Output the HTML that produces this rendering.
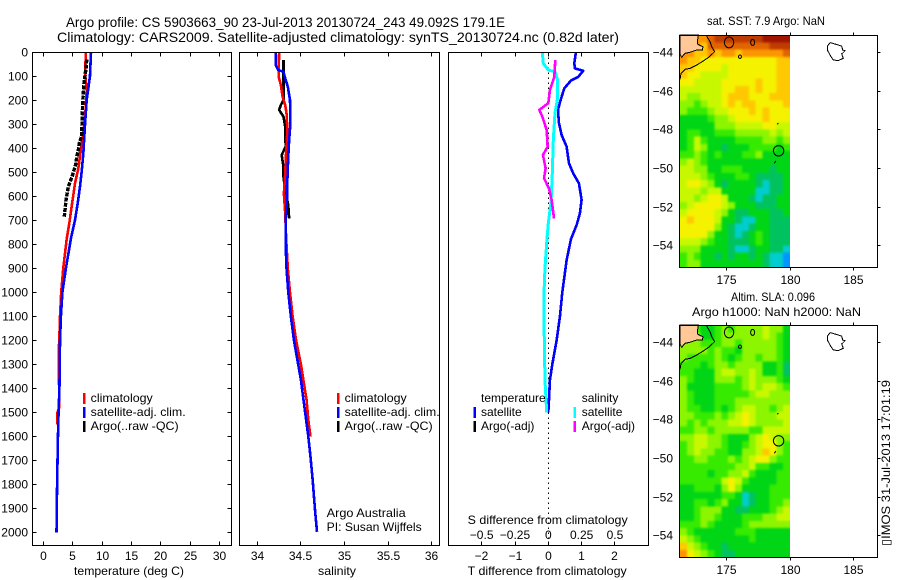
<!DOCTYPE html>
<html>
<head>
<meta charset="utf-8">
<title>Argo profile chart</title>
<style>
html,body{margin:0;padding:0;background:#fff;}
svg{display:block;}
text{font-family:"Liberation Sans",sans-serif;font-size:12px;fill:#000;}
.title{font-size:14px;}
</style>
</head>
<body>
<svg id="chart" xmlns="http://www.w3.org/2000/svg" width="900" height="580" viewBox="0 0 900 580">
<defs>
<filter id="heatSmooth" color-interpolation-filters="sRGB"><feGaussianBlur stdDeviation="1"/></filter>
<clipPath id="clipSst"><rect x="680" y="35" width="110" height="232"/></clipPath>
<clipPath id="clipSla"><rect x="680" y="325" width="110" height="232"/></clipPath>
</defs>
<rect x="0" y="0" width="900" height="580" fill="#fff"/>
<text class="title" x="66" y="27" textLength="439" lengthAdjust="spacingAndGlyphs">Argo profile: CS 5903663_90 23-Jul-2013 20130724_243 49.092S 179.1E</text>
<text class="title" x="57" y="42" textLength="562" lengthAdjust="spacingAndGlyphs">Climatology: CARS2009. Satellite-adjusted climatology: synTS_20130724.nc (0.82d later)</text>

<text x="74" y="575" textLength="110" lengthAdjust="spacingAndGlyphs">temperature (deg C)</text>
<text x="318" y="575" textLength="38" lengthAdjust="spacingAndGlyphs">salinity</text>
<text x="467.7" y="575" textLength="159" lengthAdjust="spacingAndGlyphs">T difference from climatology</text>
<text x="467.7" y="524" textLength="160" lengthAdjust="spacingAndGlyphs">S difference from climatology</text>

<text x="707" y="25" textLength="118" lengthAdjust="spacingAndGlyphs">sat. SST: 7.9 Argo: NaN</text>
<text x="731" y="301" textLength="84" lengthAdjust="spacingAndGlyphs">Altim. SLA: 0.096</text>
<text x="692" y="316" textLength="169" lengthAdjust="spacingAndGlyphs">Argo h1000: NaN h2000: NaN</text>

<text x="326.7" y="517" textLength="79" lengthAdjust="spacingAndGlyphs">Argo Australia</text>
<text x="326.7" y="531" textLength="95" lengthAdjust="spacingAndGlyphs">PI: Susan Wijffels</text>
<text transform="translate(890,546) rotate(-90)" textLength="166" lengthAdjust="spacingAndGlyphs">▯IMOS 31-Jul-2013 17:01:19</text>
</svg>
<script>
/* ---------- depth axis ---------- */
const depthTicks = [0,100,200,300,400,500,600,700,800,900,1000,1100,1200,1300,1400,1500,1600,1700,1800,1900,2000];

/* ---------- temperature panel ---------- */
const tempTicks = [0,5,10,15,20,25,30];
const tempClimDepth = [0,86,157,283,380,484,546,643,712,779,900,1000,1100,1200,1250,1350,1400,1480,1500,1550];
const tempClimValues = [7.27,7.1,7.39,7.1,6.54,5.97,5.4,4.83,4.43,3.98,3.4,3.05,2.85,2.72,2.6,2.6,2.72,2.72,2.42,2.42];
const tempSatDepth = [0,100,199,303,421,497,560,629,699,774,900,1000,1100,1200,1300,1400,1500,1600,1800,2000];
const tempSatValues = [8.13,7.95,7.39,7.1,6.82,6.54,6.25,5.86,5.4,4.72,3.85,3.25,3.0,2.85,2.8,2.75,2.6,2.5,2.35,2.25];
const tempArgoDepth = [30,70,129,212,282,352,379,407,435,462,511,560,615,685];
const tempArgoValues = [7.4,7.27,6.93,6.7,6.62,6.5,6.13,5.97,5.69,5.57,5.0,4.26,3.87,3.58];

/* ---------- salinity panel ---------- */
const salTicks = [34,34.5,35,35.5,36];
const salTickLabels = ["34","34.5","35","35.5","36"];
const salClimDepth = [0,102,136,185,220,254,324,421,505,588,671,770,900,1000,1100,1200,1300,1380,1449,1532,1601];
const salClimValues = [34.25,34.245,34.27,34.29,34.32,34.335,34.345,34.33,34.32,34.305,34.32,34.33,34.35,34.375,34.405,34.445,34.5,34.535,34.565,34.585,34.61];
const salSatDepth = [0,53,74,81,108,143,199,295,365,435,532,615,699,800,900,1000,1100,1200,1365,1449,1532,1601,1685,1782,1852,1921,1998];
const salSatValues = [34.21,34.21,34.24,34.3,34.32,34.35,34.375,34.38,34.365,34.355,34.345,34.34,34.325,34.325,34.335,34.355,34.385,34.42,34.5,34.53,34.56,34.585,34.61,34.635,34.65,34.665,34.685];
const salArgoDepth = [32,60,110,199,220,240,268,310,393,428,477,518,574,636,692];
const salArgoValues = [34.3,34.3,34.3,34.3,34.27,34.25,34.3,34.32,34.325,34.28,34.3,34.3,34.32,34.355,34.365];

/* ---------- difference panel ---------- */
const tDiffTicks = [-2,-1,0,1,2];
const tDiffTickLabels = ["−2","−1","0","1","2"];
const sDiffTicks = [-0.5,-0.25,0,0.25,0.5];
const sDiffTickLabels = ["−0.5","−0.25","0","0.25","0.5"];
const tDiffDepth = [0,46,67,77,102,118,150,199,240,295,345,393,462,505,546,615,671,720,779,866,1000,1100,1200,1300,1365,1449,1500];
const tDiffValues = [0.83,0.78,0.8,1.05,0.9,0.68,0.48,0.37,0.29,0.32,0.4,0.55,0.62,0.75,0.92,1.0,0.95,0.85,0.68,0.55,0.42,0.35,0.25,0.12,0.05,0.02,0.0];
const sSatDiffDepth = [0,46,74,81,115,199,254,365,505,629,712,779,900,1000,1100,1200,1365,1500];
const sSatDiffValues = [-0.045,-0.0375,0,0.05,0.07,0.0675,0.05,0.0375,0.03,0.02,0,-0.01,-0.025,-0.032,-0.032,-0.03,-0.025,-0.012];
const sArgoDiffDepth = [32,102,157,212,240,268,324,393,428,483,525,567,615,692];
const sArgoDiffValues = [0.0525,0.045,0.0125,0,-0.0675,-0.045,-0.012,-0.005,-0.04,-0.02,-0.032,0.005,0.025,0.043];

/* ---------- map axes ---------- */
const lonTicks = [175,180,185];
const latTicks = [-44,-46,-48,-50,-52,-54];
const latTickLabels = ["−44","−46","−48","−50","−52","−54"];

/* ---------- SST heatmap (colour-class per cell, north to south) ---------- */
const sstGrid = [
[9,9,9,9,10,11,11,11,11,11,11,11,12,12,12,12],
[9,9,9,8,10,10,10,10,10,10,10,10,10,11,11,11],
[9,9,8,8,9,8,9,9,8,9,9,9,9,9,9,10],
[9,8,8,7,7,7,7,7,7,7,7,7,7,7,8,8],
[8,8,7,7,7,7,6,7,7,7,7,7,7,7,8,8],
[8,7,7,6,6,6,6,7,7,7,7,7,7,7,8,8],
[7,7,6,6,6,6,7,7,7,7,7,8,7,7,8,8],
[6,6,6,6,6,6,7,7,8,8,7,8,7,7,8,8],
[6,5,5,6,6,6,7,8,8,8,7,7,7,8,8,8],
[5,5,4,5,6,6,7,8,7,8,8,7,7,7,7,8],
[5,4,4,4,5,6,6,7,7,7,8,7,8,7,7,7],
[3,3,3,3,4,5,5,6,7,7,7,7,8,7,7,7],
[3,3,3,3,3,5,5,5,6,6,6,6,7,7,6,6],
[3,4,4,3,3,4,4,4,5,5,5,5,5,6,5,6],
[3,4,6,4,3,3,3,3,4,4,4,4,5,5,4,5],
[3,4,6,5,3,3,2,3,3,3,4,4,4,4,3,4],
[4,4,5,4,3,4,3,3,3,4,4,5,3,3,3,3],
[5,6,5,4,3,3,3,3,3,3,3,3,3,3,3,3],
[6,6,5,5,3,3,4,4,4,3,3,3,3,2,3,3],
[6,6,6,5,4,3,3,3,4,4,3,2,2,2,2,3],
[6,7,7,6,5,3,2,3,3,3,3,2,1,2,2,3],
[6,6,6,5,6,6,3,3,3,3,3,1,1,2,2,3],
[6,6,5,6,7,7,6,3,3,3,2,1,2,2,3,3],
[5,6,7,7,7,7,6,5,3,3,3,2,2,2,3,3],
[6,7,7,7,7,6,5,3,2,2,3,3,3,2,2,3],
[7,8,7,7,7,6,3,3,2,1,1,3,3,2,2,2],
[7,7,7,7,7,5,3,2,1,1,2,3,3,2,2,2],
[7,7,7,7,5,3,3,2,1,2,3,4,3,2,2,2],
[6,6,6,5,4,3,3,2,2,2,3,4,3,2,2,2],
[5,5,5,3,3,3,3,2,1,1,2,3,3,2,2,1],
[4,5,4,3,3,2,3,2,3,3,2,3,2,1,1,0],
[4,5,5,3,3,3,3,3,3,3,3,3,2,1,1,0]
];

/* ---------- SLA heatmap ---------- */
const slaGrid = [
[4,4,4,3,3,4,5,4,5,5,5,5,6,5,5,3],
[4,5,5,3,3,4,5,5,5,5,5,5,6,5,4,3],
[5,5,5,4,4,4,5,5,4,5,5,5,5,5,4,3],
[5,5,5,5,4,5,4,4,3,5,5,5,5,5,4,3],
[5,4,4,4,4,5,4,3,4,5,5,4,5,5,4,3],
[4,4,4,3,4,5,5,4,5,5,5,5,3,3,4,2],
[4,4,3,3,3,5,6,6,5,5,6,5,3,3,4,2],
[5,4,3,3,3,5,5,5,4,5,6,5,5,5,4,3],
[5,3,3,3,3,4,4,4,4,5,6,5,6,6,5,4],
[5,4,3,3,3,4,4,4,4,4,5,6,6,5,5,5],
[5,4,3,3,3,4,4,4,5,5,5,5,5,5,5,5],
[5,4,4,3,3,4,3,4,5,6,6,5,5,4,5,6],
[5,5,4,4,4,5,4,5,6,7,6,5,5,5,6,6],
[5,4,5,4,5,5,5,6,6,7,6,5,5,5,5,6],
[4,4,5,5,4,5,5,5,5,5,4,4,6,6,6,6],
[5,5,6,6,5,5,4,3,3,3,5,6,7,6,5,5],
[4,5,6,6,5,5,4,3,3,4,5,6,7,7,5,4],
[4,5,6,5,5,4,4,3,3,5,5,6,8,7,5,4],
[4,4,5,5,4,4,4,5,4,5,6,7,7,5,4,4],
[4,4,4,4,4,4,4,4,5,5,6,4,4,3,3,4],
[4,4,4,4,3,4,4,5,5,6,4,3,3,3,4,4],
[4,4,4,4,4,4,6,7,6,4,3,3,3,3,4,4],
[3,3,4,4,4,3,5,7,5,3,3,3,3,4,4,4],
[3,3,3,3,3,3,4,4,3,1,2,3,3,4,4,4],
[3,3,4,4,3,4,5,3,3,1,2,3,3,4,4,5],
[3,3,4,5,5,5,3,3,2,2,3,3,3,4,5,6],
[3,3,4,5,5,4,3,3,3,4,4,4,5,5,6,6],
[4,4,4,5,4,3,3,3,3,4,5,5,5,5,5,5],
[5,4,3,3,3,3,3,3,4,4,4,3,3,3,3,3],
[6,5,4,3,3,3,3,3,3,3,4,3,3,3,3,3],
[8,6,5,4,3,3,2,3,3,3,3,3,3,3,3,3],
[9,7,6,5,4,3,2,2,3,3,3,3,3,3,3,3]
];

/* ---------- coast geography (lon / lat) ---------- */
const landLon = [171.32,172.77,172.71,172.69,172.95,173.13,173.08,172.63,172.11,171.71,171.45,171.32];
const landLat = [-43.11,-43.11,-43.37,-43.57,-43.66,-43.71,-43.88,-43.88,-44.0,-44.05,-44.26,-44.09];
const coastLon = [171.32,171.4,171.71,172.11,172.63,173.16,173.63,174.05,173.82,173.69,173.48,173.42];
const coastLat = [-45.4,-45.09,-44.88,-44.83,-44.66,-44.45,-44.23,-43.97,-43.71,-43.45,-43.23,-43.11];
const eastIslandLon = [183.16,183.55,184.08,184.16,184.34,184.08,184.21,183.81,183.42,183.16,182.95,182.95,183.16];
const eastIslandLat = [-43.5,-43.57,-43.68,-43.88,-43.92,-44.09,-44.31,-44.43,-44.4,-44.14,-43.88,-43.68,-43.5];
const profileLon = 179.1;
const profileLat = -49.092;
const isletLon = [175.19,177.05,176.05];
const isletLat = [-43.49,-43.49,-44.23];

/* ---------- axis functions ---------- */
function depthY(d){ return 52.3 + 0.24*d; }
function tempX(v){ return 43.3 + 5.87*v; }
function salX(v){ return 257.3 + (v-34)*87.2; }
function tDiffX(v){ return 548.3 + 33.3*v; }
function sDiffX(v){ return 548.3 + 133.3*v; }
function lonX(l){ return 790 + (l-180)*12.67; }
function latY(top,lat){ return top + 17.3 + (-44-lat)*19.35; }

const svg = document.getElementById('chart');
const NS = 'http://www.w3.org/2000/svg';
function mk(tag, attrs, parent){
  const el = document.createElementNS(NS, tag);
  for (const k in attrs) el.setAttribute(k, attrs[k]);
  (parent || svg).appendChild(el);
  return el;
}
function seg(x1,y1,x2,y2,parent,name){
  const el = mk('line',{x1:x1,y1:y1,x2:x2,y2:y2,stroke:'#000','stroke-width':1,'shape-rendering':'crispEdges'},parent);
  
  
  return el;
}
function label(str,x,y,anchor,name,parent){
  const el = mk('text',{x:x,y:y,'text-anchor':anchor},parent);
  el.textContent = str;
  
  
  return el;
}
function frame(x0,y0,x1,y1,name){
  const el = mk('rect',{x:x0,y:y0,width:x1-x0,height:y1-y0,fill:'none',stroke:'#000','stroke-width':1,'shape-rendering':'crispEdges'});
  
  
}
function series(xs,ds,xFn,color,width,name,dash){
  const pts = xs.map(function(v,i){ return xFn(v).toFixed(2)+','+depthY(ds[i]).toFixed(2); }).join(' ');
  const a = {points:pts,fill:'none',stroke:color,'stroke-width':width,'stroke-linejoin':'round','shape-rendering':'crispEdges'};
  if (dash) a['stroke-dasharray'] = dash;
  const el = mk('polyline',a);
  
  
}
function legendRow(x,txtX,y,color,str,name,txtLen){
  const sw = mk('rect',{x:x,y:y-5,width:2.4,height:11,fill:color,'shape-rendering':'crispEdges'});
  
  
  const t = label(str,txtX,y+4,'start',name+'-label');
  if (txtLen){ t.setAttribute('textLength',txtLen); t.setAttribute('lengthAdjust','spacingAndGlyphs'); }
}

const TOP = 52.5, BOT = 545.5;

/* panel 1: temperature */
series(tempClimValues,tempClimDepth,tempX,'#f00',2.6,'temperature-climatology-line');
series(tempSatValues,tempSatDepth,tempX,'#00f',2.6,'temperature-satellite-line');
series(tempArgoValues,tempArgoDepth,tempX,'#000',3.4,'temperature-argo-line','4 1.2');
frame(32.5,TOP,231.5,BOT,'temperature-panel-frame');
depthTicks.forEach(function(d){
  const y = Math.floor(depthY(d))+0.5;
  seg(32.5,y,36.5,y,null,'depth-tick-left');
  seg(227.5,y,231.5,y,null,'depth-tick-right');
  label(String(d),28,y+4,'end','depth-tick-label');
});
tempTicks.forEach(function(v){
  const x = Math.floor(tempX(v))+0.5;
  seg(x,TOP,x,TOP+4,null,'temperature-tick-top');
  seg(x,BOT-4,x,BOT,null,'temperature-tick-bottom');
  label(String(v),x,560,'middle','temperature-tick-label');
});
legendRow(83,90.7,398,'#f00','climatology','temperature-legend-climatology',62);
legendRow(83,90.7,412,'#00f','satellite-adj. clim.','temperature-legend-satellite',95);
legendRow(83,90.7,426,'#000','Argo(..raw -QC)','temperature-legend-argo',88);

/* panel 2: salinity */
series(salArgoValues,salArgoDepth,salX,'#000',2.6,'salinity-argo-line');
series(salClimValues,salClimDepth,salX,'#f00',2.6,'salinity-climatology-line');
series(salSatValues,salSatDepth,salX,'#00f',2.6,'salinity-satellite-line');
frame(239.5,TOP,439.5,BOT,'salinity-panel-frame');
salTicks.forEach(function(v,i){
  const x = Math.floor(salX(v))+0.5;
  seg(x,TOP,x,TOP+4,null,'salinity-tick-top');
  seg(x,BOT-4,x,BOT,null,'salinity-tick-bottom');
  label(salTickLabels[i],x,560,'middle','salinity-tick-label');
});
legendRow(337,344.7,398,'#f00','climatology','salinity-legend-climatology',62);
legendRow(337,344.7,412,'#00f','satellite-adj. clim.','salinity-legend-satellite',95);
legendRow(337,344.7,426,'#000','Argo(..raw -QC)','salinity-legend-argo',88);

/* panel 3: differences */
const zeroLine = mk('line',{x1:548.5,y1:TOP,x2:548.5,y2:BOT,stroke:'#000','stroke-width':1.2,'stroke-dasharray':'1.5 3.5','shape-rendering':'crispEdges'});


series(tDiffValues,tDiffDepth,tDiffX,'#00f',2.6,'t-difference-satellite-line');
series(sSatDiffValues,sSatDiffDepth,sDiffX,'#0ff',3,'s-difference-satellite-line');
series(sArgoDiffValues,sArgoDiffDepth,sDiffX,'#f0f',2.6,'s-difference-argo-line');
frame(448.5,TOP,648.5,BOT,'difference-panel-frame');
tDiffTicks.forEach(function(v,i){
  const x = Math.floor(tDiffX(v))+0.5;
  seg(x,TOP,x,TOP+4,null,'t-difference-tick-top');
  seg(x,BOT-4,x,BOT,null,'t-difference-tick-bottom');
  label(tDiffTickLabels[i],x,560,'middle','t-difference-tick-label');
});
sDiffTicks.forEach(function(v,i){
  label(sDiffTickLabels[i],sDiffX(v),539,'middle','s-difference-tick-label');
});
label('temperature',481,402,'start','difference-legend-temperature-heading');
label('salinity',581.7,402,'start','difference-legend-salinity-heading');
legendRow(473.5,481,412,'#00f','satellite','difference-legend-t-satellite');
legendRow(473.5,481,426,'#000','Argo(-adj)','difference-legend-t-argo');
legendRow(573.5,581.7,412,'#0ff','satellite','difference-legend-s-satellite');
legendRow(573.5,581.7,426,'#f0f','Argo(-adj)','difference-legend-s-argo');

/* maps */
const palette = ['rgb(0,150,255)','rgb(0,205,205)','rgb(0,195,95)','rgb(0,214,22)','rgb(55,235,0)','rgb(140,245,0)','rgb(200,248,0)','rgb(245,242,0)','rgb(255,200,0)','rgb(252,150,0)','rgb(225,100,0)','rgb(190,60,0)','rgb(160,20,0)'];
function pathOf(lons,lats,top){
  return lons.map(function(l,i){ return lonX(l).toFixed(1)+','+latY(top,lats[i]).toFixed(1); }).join(' ');
}
function drawMap(top,grid,prefix,clipId){
  const bottom = top+232;
  const left = 680, right = 790;
  const cols = grid[0].length, rows = grid.length;
  const cw = (right-left)/cols, ch = 232/rows;
  const clipGroup = mk('g',{'clip-path':'url(#'+clipId+')'});
  
  
  const smoothGroup = mk('g',{filter:'url(#heatSmooth)'},clipGroup);
  grid.forEach(function(row,r){
    row.forEach(function(v,c){
      const padL = c===0 ? 8 : 0, padR = c===cols-1 ? 8 : 0;
      const padT = r===0 ? 8 : 0, padB = r===rows-1 ? 8 : 0;
      const cell = mk('rect',{x:left+c*cw-padL,y:top+r*ch-padT,width:cw+0.4+padL+padR,height:ch+0.4+padT+padB,fill:palette[v],'shape-rendering':'crispEdges'},smoothGroup);
      
      
    });
  });
  const land = mk('polygon',{points:pathOf(landLon,landLat,top),fill:'rgb(255,200,150)',stroke:'#000','stroke-width':1,'shape-rendering':'crispEdges'});
  
  
  const coast = mk('polyline',{points:pathOf(coastLon,coastLat,top),fill:'none',stroke:'#000','stroke-width':1,'shape-rendering':'crispEdges'});
  
  
  const isl = mk('polyline',{points:pathOf(eastIslandLon,eastIslandLat,top),fill:'none',stroke:'#000','stroke-width':1,'shape-rendering':'crispEdges'});
  
  
  const radii = [[4.7,5.4],[2,3],[1.5,1.7]];
  isletLon.forEach(function(l,i){
    const e = mk('ellipse',{cx:lonX(l),cy:latY(top,isletLat[i]),rx:radii[i][0],ry:radii[i][1],fill:'none',stroke:'#000','stroke-width':1});
    
    
  });
  const dash1 = mk('line',{x1:lonX(179),y1:latY(top,-47.72),x2:lonX(179.08),y2:latY(top,-47.66),stroke:'#000','stroke-width':1});
  
  
  const dash2 = mk('line',{x1:lonX(178.76),y1:latY(top,-49.74),x2:lonX(178.88),y2:latY(top,-49.62),stroke:'#000','stroke-width':1});
  
  
  const marker = mk('circle',{cx:lonX(profileLon),cy:latY(top,profileLat),r:5.2,fill:'none',stroke:'#000','stroke-width':1});
  
  
  frame(679.5,top+0.5,877.5,bottom+0.5,prefix+'-map-frame');
  lonTicks.forEach(function(l){
    const x = Math.floor(lonX(l))+0.5;
    seg(x,top+0.5-3,x,top+0.5,null,prefix+'-lon-tick-top');
    seg(x,bottom+0.5,x,bottom+3.5,null,prefix+'-lon-tick-bottom');
    label(String(l),x,bottom+17,'middle',prefix+'-lon-tick-label');
  });
  latTicks.forEach(function(lat,i){
    const y = Math.floor(latY(top,lat))+0.5;
    seg(877.5,y,880.5,y,null,prefix+'-lat-tick-right');
    label(latTickLabels[i],673,y+4,'end',prefix+'-lat-tick-label');
  });
}
drawMap(35,sstGrid,'sst','clipSst');
drawMap(325,slaGrid,'sla','clipSla');
</script>
</body>
</html>
